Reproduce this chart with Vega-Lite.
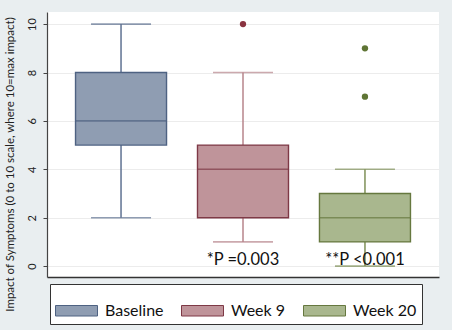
{
  "$schema": "https://vega.github.io/schema/vega-lite/v6.json",
  "width": 392,
  "height": 265,
  "autosize": {"type": "none"},
  "padding": {"left": 47, "top": 12, "right": 13, "bottom": 53},
  "background": "#e9eef0",
  "config": {"view": {"fill": "white", "stroke": null}, "font": "Lato"},
  "datasets": {
    "boxes": [
      {"group": "Baseline", "lo": 2, "q1": 5, "med": 6, "q3": 8, "hi": 10},
      {"group": "Week 9", "lo": 1, "q1": 2, "med": 4, "q3": 5, "hi": 8},
      {"group": "Week 20", "lo": 0, "q1": 1, "med": 2, "q3": 3, "hi": 4}
    ],
    "outliers": [
      {"group": "Week 9", "value": 10},
      {"group": "Week 20", "value": 7},
      {"group": "Week 20", "value": 9}
    ],
    "notes": [
      {"group": "Week 9", "value": 0.05, "label": "*P =0.003"},
      {"group": "Week 20", "value": 0.05, "label": "**P <0.001"}
    ]
  },
  "layer": [
    {
      "data": {"name": "boxes"},
      "mark": {"type": "rule", "strokeWidth": 1.5},
      "encoding": {
        "x": {"field": "group", "type": "nominal", "sort": ["Baseline", "Week 9", "Week 20"], "scale": {"paddingInner": 0, "paddingOuter": 0.107}, "axis": {"labels": false, "ticks": false, "title": null, "domainColor": "#333", "domainWidth": 1.5, "grid": false}},
        "y": {"field": "lo", "type": "quantitative", "title": "Impact of Symptoms (0 to 10 scale, where 10=max impact)", "scale": {"domain": [-0.45, 10.5], "nice": false, "zero": false}, "axis": {"values": [0, 2, 4, 6, 8, 10], "labelAngle": -90, "labelAlign": "center", "labelBaseline": "bottom", "labelPadding": 6, "labelFontSize": 11, "labelColor": "#222", "tickColor": "#444", "tickSize": 4, "domainColor": "#444", "domainWidth": 1.2, "gridColor": "#ececec", "titleFontSize": 11.5, "titleFontWeight": "normal", "titleColor": "#222", "titleX": -37, "titleY": 152, "titleBaseline": "middle"}},
        "y2": {"field": "hi"},
        "stroke": {"field": "group", "type": "nominal", "scale": {"domain": ["Baseline", "Week 9", "Week 20"], "range": ["#5f7292", "#b7848b", "#7f9058"]}, "legend": null}
      }
    },
    {
      "data": {"name": "boxes"},
      "transform": [{"fold": ["lo", "hi"], "as": ["which", "cap"]}],
      "mark": {"type": "tick", "size": 60, "thickness": 1.6},
      "encoding": {
        "x": {"field": "group", "type": "nominal", "sort": ["Baseline", "Week 9", "Week 20"]},
        "y": {"field": "cap", "type": "quantitative", "title": "Impact of Symptoms (0 to 10 scale, where 10=max impact)"},
        "fill": {"field": "group", "type": "nominal", "scale": {"domain": ["Baseline", "Week 9", "Week 20"], "range": ["#5f7292", "#b7848b", "#7f9058"]}, "legend": null}
      }
    },
    {
      "data": {"name": "boxes"},
      "mark": {"type": "bar", "size": 91, "strokeWidth": 1.4},
      "encoding": {
        "x": {"field": "group", "type": "nominal", "sort": ["Baseline", "Week 9", "Week 20"]},
        "y": {"field": "q1", "type": "quantitative", "title": "Impact of Symptoms (0 to 10 scale, where 10=max impact)"},
        "y2": {"field": "q3"},
        "fill": {"field": "group", "type": "nominal", "scale": {"domain": ["Baseline", "Week 9", "Week 20"], "range": ["#8f9db2", "#bf949a", "#a9b78e"]}, "legend": {"orient": "none", "legendX": 3, "legendY": 272, "direction": "horizontal", "title": null, "fillColor": "white", "strokeColor": "#333", "padding": 5, "symbolType": "M-1,-0.25H1V0.25H-1Z", "symbolSize": 1764, "symbolStrokeWidth": 1, "labelFontSize": 16, "labelFont": "Lato", "labelColor": "#111", "labelOffset": 7, "columnPadding": 15, "encode": {"symbols": {"update": {"stroke": {"signal": "datum.value === 'Baseline' ? '#4e6282' : datum.value === 'Week 9' ? '#a0606b' : '#76884c'"}}}}}},
        "stroke": {"field": "group", "type": "nominal", "scale": {"domain": ["Baseline", "Week 9", "Week 20"], "range": ["#4e6282", "#7e3946", "#66783f"]}, "legend": null}
      }
    },
    {
      "data": {"name": "boxes"},
      "mark": {"type": "tick", "size": 91, "thickness": 1.6},
      "encoding": {
        "x": {"field": "group", "type": "nominal", "sort": ["Baseline", "Week 9", "Week 20"]},
        "y": {"field": "med", "type": "quantitative", "title": "Impact of Symptoms (0 to 10 scale, where 10=max impact)"},
        "fill": {"field": "group", "type": "nominal", "scale": {"domain": ["Baseline", "Week 9", "Week 20"], "range": ["#4e6282", "#7e3946", "#66783f"]}, "legend": null}
      }
    },
    {
      "data": {"name": "outliers"},
      "mark": {"type": "circle", "size": 40, "opacity": 1},
      "encoding": {
        "x": {"field": "group", "type": "nominal", "sort": ["Baseline", "Week 9", "Week 20"]},
        "y": {"field": "value", "type": "quantitative", "title": "Impact of Symptoms (0 to 10 scale, where 10=max impact)"},
        "fill": {"field": "group", "type": "nominal", "scale": {"domain": ["Baseline", "Week 9", "Week 20"], "range": ["#4e6282", "#8a3340", "#5f7535"]}, "legend": null}
      }
    },
    {
      "data": {"name": "notes"},
      "mark": {"type": "text", "fontSize": 16.5, "font": "Lato", "color": "#111", "baseline": "alphabetic", "align": "center"},
      "encoding": {
        "x": {"field": "group", "type": "nominal", "sort": ["Baseline", "Week 9", "Week 20"]},
        "y": {"field": "value", "type": "quantitative", "title": "Impact of Symptoms (0 to 10 scale, where 10=max impact)"},
        "text": {"field": "label"}
      }
    }
  ],
  "resolve": {"scale": {"fill": "independent", "stroke": "independent"}}
}
